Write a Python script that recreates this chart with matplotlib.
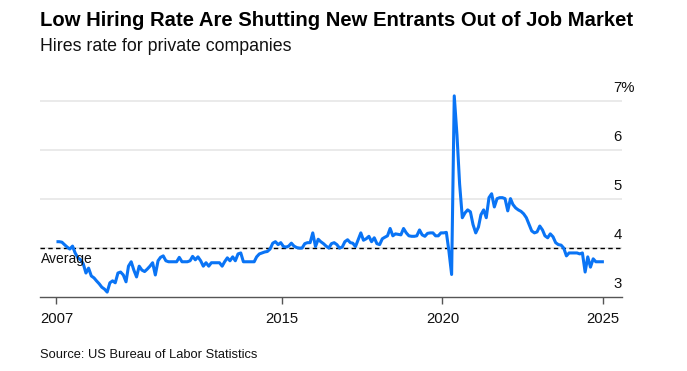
import matplotlib

matplotlib.use("Agg")
import matplotlib.pyplot as plt
import pandas as pd

plt.rcParams.update(
    {
        "font.family": ["Liberation Sans", "DejaVu Sans"],
        "axes.unicode_minus": False,
    }
)

TITLE = "Low Hiring Rate Are Shutting New Entrants Out of Job Market"
SUBTITLE = "Hires rate for private companies"
SOURCE = "Source: US Bureau of Labor Statistics"

# monthly private hires rate (%), Dec 2007 .. Jan 2025
START_MONTH = "2007-12-01"
hires_rate = [
    4.12, 4.12, 4.11, 4.06, 4.01, 3.97, 4.03, 3.89, 3.79, 3.75,
    3.67, 3.48, 3.58, 3.42, 3.38, 3.32, 3.26, 3.19, 3.15, 3.09,
    3.28, 3.32, 3.28, 3.48, 3.50, 3.44, 3.30, 3.62, 3.71, 3.54,
    3.40, 3.62, 3.54, 3.51, 3.56, 3.62, 3.69, 3.44, 3.73, 3.80,
    3.83, 3.73, 3.71, 3.71, 3.71, 3.71, 3.80, 3.71, 3.71, 3.71,
    3.73, 3.82, 3.75, 3.81, 3.73, 3.62, 3.69, 3.62, 3.69, 3.69,
    3.69, 3.69, 3.62, 3.71, 3.79, 3.73, 3.81, 3.73, 3.87, 3.89,
    3.71, 3.71, 3.71, 3.71, 3.71, 3.81, 3.87, 3.89, 3.91, 3.92,
    3.97, 4.09, 4.12, 4.06, 4.10, 4.02, 4.01, 4.03, 4.09, 4.03,
    4.00, 3.99, 3.99, 4.08, 4.10, 4.10, 4.30, 4.02, 4.17, 4.12,
    4.08, 4.03, 3.99, 4.08, 4.10, 4.06, 3.99, 4.01, 4.12, 4.16,
    4.10, 4.09, 4.02, 4.16, 4.30, 4.15, 4.18, 4.23, 4.12, 4.20,
    4.08, 4.06, 4.18, 4.21, 4.24, 4.39, 4.24, 4.28, 4.27, 4.26,
    4.39, 4.30, 4.24, 4.23, 4.23, 4.24, 4.36, 4.26, 4.23, 4.29,
    4.30, 4.30, 4.24, 4.24, 4.30, 4.30, 4.31, 3.93, 3.45, 7.10,
    6.30, 5.30, 4.61, 4.71, 4.77, 4.73, 4.47, 4.30, 4.42, 4.67,
    4.77, 4.61, 5.02, 5.10, 4.83, 5.00, 5.02, 5.02, 5.00, 4.75,
    5.00, 4.88, 4.81, 4.77, 4.74, 4.69, 4.61, 4.47, 4.34, 4.30,
    4.32, 4.44, 4.36, 4.24, 4.20, 4.28, 4.22, 4.10, 4.06, 4.05,
    3.99, 3.83, 3.89, 3.89, 3.89, 3.89, 3.87, 3.89, 3.50, 3.81,
    3.60, 3.77, 3.71, 3.71, 3.71, 3.71,
]
AVERAGE = 3.99

y_ticks = [3, 4, 5, 6, 7]
y_tick_labels = ["3", "4", "5", "6", "7%"]
x_tick_years = ["2007", "2015", "2020", "2025"]

LINE_COLOR = "#0a74f5"
GRID_COLOR = "#e6e6e6"

dates = pd.date_range(START_MONTH, periods=len(hires_rate), freq="MS") + pd.Timedelta(days=14)
x_ticks = [dates[0]] + [pd.Timestamp(f"{y}-01-01") for y in x_tick_years[1:]]

fig = plt.figure(figsize=(6.87, 3.71), dpi=100)
ax = fig.add_axes([0.0582, 0.2008, 0.847, 0.554])

ax.plot(dates, hires_rate, color=LINE_COLOR, linewidth=2.2, solid_joinstyle="round",
        solid_capstyle="butt", zorder=3, clip_on=False)
ax.axhline(AVERAGE, color="black", linewidth=1.0, linestyle=(0, (3.2, 2.4)), zorder=2)

for v in y_ticks[1:]:
    ax.axhline(v, color=GRID_COLOR, linewidth=1.2, zorder=1)

ax.set_xlim(pd.Timestamp("2007-06-10"), pd.Timestamp("2025-08-08"))
ax.set_ylim(3, 7.2)

for side in ("top", "right", "left"):
    ax.spines[side].set_visible(False)
ax.spines["bottom"].set_color("#555555")
ax.spines["bottom"].set_linewidth(1.0)

ax.set_yticks([])
ax.set_xticks(x_ticks)
ax.set_xticklabels(x_tick_years, fontsize=10.7, color="#111111")
ax.tick_params(axis="x", length=5, width=1.0, color="#555555", pad=6)

for v, lab in zip(y_ticks, y_tick_labels):
    ax.annotate(lab, xy=(0.985, v), xycoords=("axes fraction", "data"),
                xytext=(0, 4), textcoords="offset points",
                ha="left", va="bottom", fontsize=10.7, color="#111111")

ax.annotate("Average", xy=(0.0, AVERAGE), xycoords=("axes fraction", "data"),
            xytext=(1, -3), textcoords="offset points",
            ha="left", va="top", fontsize=10, color="#111111")

fig.text(40 / 687, 1 - 26 / 371, TITLE, fontsize=14.6, fontweight="bold",
         ha="left", va="baseline", color="black")
fig.text(40 / 687, 1 - 51 / 371, SUBTITLE, fontsize=12.8,
         ha="left", va="baseline", color="#111111")
fig.text(40 / 687, 1 - 358 / 371, SOURCE, fontsize=9.3,
         ha="left", va="baseline", color="#111111")

fig.savefig("out.png", dpi=100)
